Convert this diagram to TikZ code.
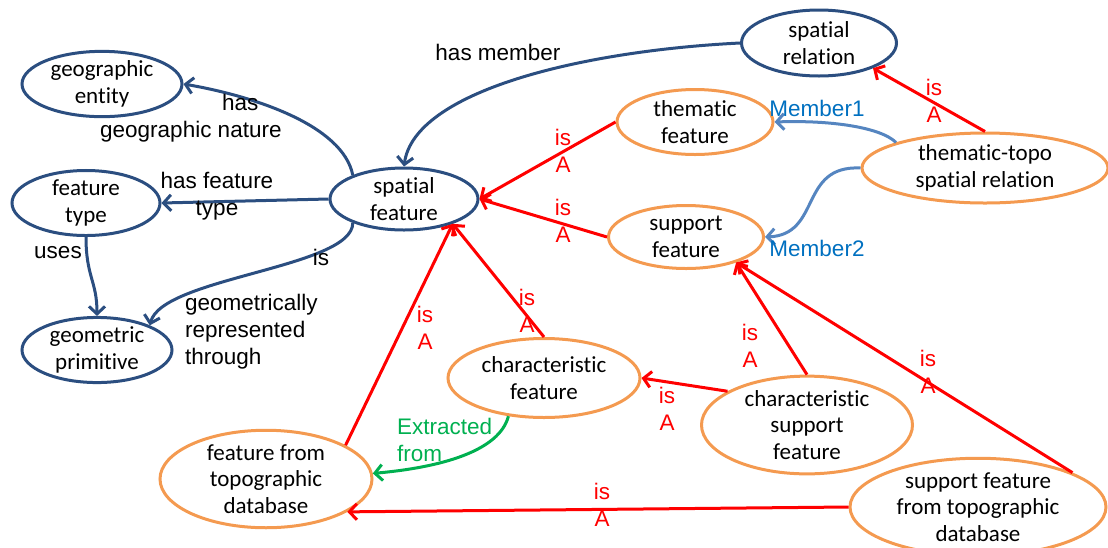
\documentclass[tikz,border=0pt]{standalone}
\usepackage{fontspec}
\usepackage{xcolor}
\usepackage{tikz}
\usetikzlibrary{arrows.meta,shapes.geometric}
\newfontfamily\nodefont[Ligatures=NoCommon]{Carlito}
\newfontfamily\lblfont{Liberation Sans}
\definecolor{darkblue}{HTML}{2B4E80}
\definecolor{lorange}{HTML}{F49A50}
\definecolor{lblue}{HTML}{5585C0}
\definecolor{memblue}{HTML}{0070C0}
\definecolor{isred}{HTML}{FF0000}
\definecolor{exgreen}{HTML}{00B050}

\begin{document}
\begin{tikzpicture}[x=1pt, y=-1pt, >={Straight Barb[length=7.5pt,width=16pt]},
  ent/.style={ellipse, draw=darkblue, line width=3pt, inner sep=0pt, align=center, font=\nodefont\fontsize{23}{26.5}\selectfont},
  sub/.style={ent, draw=lorange},
  lbl/.style={inner sep=0pt, align=center, font=\lblfont\fontsize{22.5}{27}\selectfont},
  isa/.style={lbl, text=isred},
  rel/.style={->, darkblue, line width=3pt},
  isarr/.style={->, isred, line width=3pt},
  memarr/.style={->, lblue, line width=3pt}]
\useasboundingbox (0,0) rectangle (1108,547);
% concepts
\node[ent, minimum width=160, minimum height=62] (geoent) at (102,84) {geographic\\entity};
\node[ent, minimum width=148, minimum height=62] (ftype) at (86,203) {feature\\type};
\node[ent, minimum width=150, minimum height=64] (gprim) at (97,350) {geometric\\primitive};
\node[ent, minimum width=148, minimum height=62] (sfeat) at (404,199) {spatial\\feature};
\node[ent, minimum width=155, minimum height=66] (srel) at (819,43) {spatial\\relation};
% sub-concepts
\node[sub, minimum width=156, minimum height=65] (thfeat) at (695,122) {thematic\\feature};
\node[sub, minimum width=246, minimum height=70] (ttrel) at (985,168) {thematic-topo\\spatial relation};
\node[sub, minimum width=155, minimum height=63] (supfeat) at (686,237) {support\\feature};
\node[sub, minimum width=192, minimum height=79] (chfeat) at (544,378) {characteristic\\feature};
\node[sub, minimum width=211, minimum height=90] (chsup) at (807,425) {characteristic\\support\\feature};
\node[sub, minimum width=212, minimum height=88] (ftopo) at (266,479) {feature from\\topographic\\database};
\node[sub, minimum width=256, minimum height=90] (suptopo) at (978,507) {support feature\\from topographic\\database};
% relations of spatial feature
\draw[rel] (sfeat.155) .. controls +(-10,-50) and +(70,12) .. (geoent.east);
\draw[rel] (sfeat.west) -- (ftype.east);
\draw[rel] (sfeat.205) .. controls +(0,45) and +(12,-48) .. (gprim.25);
\draw[rel] (ftype.south) .. controls +(0,40) and +(0,-35) .. (gprim.north);
\draw[rel] (srel.west) .. controls +(-160,8) and +(10,-75) .. (sfeat.north);
\node[lbl, align=left, anchor=west] (l-nature) at (100,118) {\hspace*{122pt}has\\geographic nature};
\node[lbl] (l-ftype) at (217,196) {has feature\\type};
\node[lbl] (l-uses) at (58,253) {uses};
\node[lbl] (l-is) at (321,257) {is};
\node[lbl, align=left, anchor=west] (l-geom) at (185,332) {geometrically\\represented\\through};
\node[lbl] (l-member) at (498,52) {has member};
% members
\draw[memarr] (ttrel.164) .. controls +(-15,-15) and +(57,-2) .. (thfeat.east);
\draw[memarr] (ttrel.west) .. controls +(-62,-3) and +(57,-2) .. (supfeat.east);
\node[lbl, text=memblue] (l-mem1) at (817,108) {Member1};
\node[lbl, text=memblue] (l-mem2) at (817,248) {Member2};
% is A
\draw[isarr] (ttrel.north) -- (srel.-25);
\draw[isarr] (thfeat.west) -- (sfeat.east);
\draw[isarr] (supfeat.west) -- (sfeat.east);
\draw[isarr] (chfeat.north) -- (sfeat.-27);
\draw[isarr] (ftopo.23) -- (sfeat.-27);
\draw[isarr] (chsup.157) -- (chfeat.east);
\draw[isarr] (chsup.north) -- (supfeat.-27);
\draw[isarr] (suptopo.20) -- (supfeat.-27);
\draw[isarr] (suptopo.west) -- (ftopo.-22);
\node[isa] (i1) at (934,101) {is\\A};
\node[isa] (i2) at (563,151) {is\\A};
\node[isa] (i3) at (563,221) {is\\A};
\node[isa] (i4) at (527,311) {is\\A};
\node[isa] (i5) at (425,328) {is\\A};
\node[isa] (i6) at (667,409) {is\\A};
\node[isa] (i7) at (750,346) {is\\A};
\node[isa] (i8) at (928,372) {is\\A};
\node[isa] (i9) at (602,505) {is\\A};
% extraction
\draw[->, exgreen, line width=3pt] (chfeat.227) .. controls +(-9,35) and +(68,-6) .. (ftopo.3);
\node[lbl, text=exgreen, align=left, anchor=west] (l-extr) at (397,440) {Extracted\\from};
\end{tikzpicture}
\end{document}
